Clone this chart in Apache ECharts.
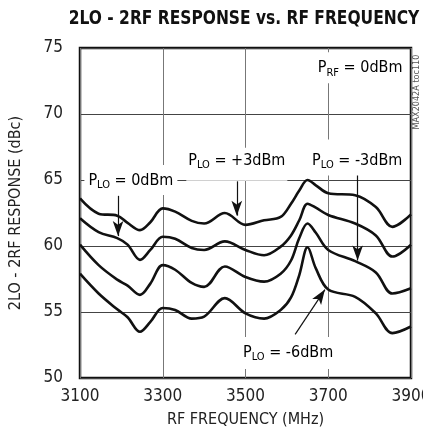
<!DOCTYPE html>
<html>
<head>
<meta charset="utf-8">
<script src="https://cdn.jsdelivr.net/npm/echarts@6/dist/echarts.min.js"></script>
<style>
  html, body { margin: 0; padding: 0; background: #fff; }
  #main { width: 423px; height: 436px; }
</style>
</head>
<body>
<div id="main"></div>
<script>
// RF frequency (MHz) sample points, shared by all curves
var freqs = [3100, 3145, 3190, 3215, 3245, 3270, 3300, 3330, 3370, 3400, 3450,
             3500, 3545, 3585, 3610, 3630, 3650, 3670, 3700, 3765, 3815, 3855, 3900];
// 2LO-2RF response (dBc) per LO power
var plo_p3 = [63.6, 62.45, 62.3, 61.75, 61.2, 61.8, 62.85, 62.6, 61.9, 61.7, 62.5,
              61.6, 61.95, 62.2, 63.2, 64.2, 65.0, 64.6, 64.0, 63.85, 62.95, 61.45, 62.4];
var plo_0  = [62.1, 61.05, 60.6, 60.1, 58.95, 59.7, 60.7, 60.55, 59.85, 59.7, 60.35,
              59.7, 59.3, 59.95, 60.8, 61.95, 63.2, 62.9, 62.35, 61.7, 60.8, 59.2, 60.1];
var plo_m3 = [60.1, 58.55, 57.45, 57.0, 56.3, 57.15, 58.55, 58.2, 57.2, 56.9, 58.45,
              57.65, 57.3, 57.9, 58.9, 60.6, 61.7, 61.0, 59.7, 58.85, 58.0, 56.4, 56.8];
var plo_m6 = [57.9, 56.4, 55.2, 54.6, 53.5, 54.25, 55.3, 55.15, 54.5, 54.65, 56.05,
              54.9, 54.5, 55.15, 56.1, 57.8, 59.9, 58.3, 56.7, 56.15, 54.9, 53.4, 53.9];

var FONT = "'Liberation Sans Narrow', 'DejaVu Sans Condensed', 'Roboto', sans-serif";

function pairs(ys) {
    return freqs.map(function (f, i) { return [f, ys[i]]; });
}

var dom = document.getElementById('main');
var chart = echarts.init(dom);

function curve(name, ys, marks) {
    var s = {
        name: name,
        type: 'line',
        smooth: 0.35,
        showSymbol: false,
        silent: true,
        lineStyle: { color: '#111', width: 2.6 },
        data: pairs(ys)
    };
    if (marks) {
        s.markLine = {
            silent: true,
            symbol: ['none', 'arrow'],
            symbolSize: [8, 15],
            label: { show: false },
            lineStyle: { color: '#111', width: 1.2, type: 'solid' },
            data: marks
        };
    }
    return s;
}

// annotation arrows, in data units [from, to]
var arrows = [
    [{ coord: [3192, 63.8] }, { coord: [3192, 60.75] }],
    [{ coord: [3479, 64.9] }, { coord: [3479, 62.3] }],
    [{ coord: [3771, 65.5] }, { coord: [3771, 58.9] }],
    [{ coord: [3620, 53.3] }, { coord: [3692, 56.7] }]
];

option = {
    animation: false,
    grid: {
        left: 80, right: 12, top: 48, bottom: 58,
        outerBoundsMode: 'none',
        containLabel: false,
        show: true, borderColor: '#111', borderWidth: 2.5
    },
    xAxis: {
        type: 'value',
        min: 3100, max: 3900, interval: 200,
        name: 'RF FREQUENCY (MHz)',
        nameLocation: 'middle',
        nameGap: 34,
        nameTextStyle: { fontFamily: FONT, fontSize: 16, color: '#222' },
        axisLine: { show: false },
        axisTick: { show: false },
        axisLabel: { fontFamily: FONT, fontSize: 17, color: '#222', margin: 10,
                     formatter: function (v) { return String(v); } },
        splitLine: { lineStyle: { color: '#777', width: 1 } }
    },
    yAxis: {
        type: 'value',
        min: 50, max: 75, interval: 5,
        name: '2LO - 2RF RESPONSE (dBc)',
        nameLocation: 'middle',
        nameGap: 56,
        nameTextStyle: { fontFamily: FONT, fontSize: 16, color: '#222' },
        axisLine: { show: false },
        axisTick: { show: false },
        axisLabel: { fontFamily: FONT, fontSize: 17, color: '#222', margin: 17 },
        splitLine: { lineStyle: { color: '#444', width: 1 } }
    },
    series: [
        curve('PLO = +3dBm', plo_p3, arrows),
        curve('PLO = 0dBm', plo_0),
        curve('PLO = -3dBm', plo_m3),
        curve('PLO = -6dBm', plo_m6)
    ]
};
chart.setOption(option);

// text labels placed at data positions
var notes = [
    { sym: 'P', sub: 'LO', rest: ' = 0dBm', at: [3223, 65.0], pad: [6, 4, 4, 4] },
    { sym: 'P', sub: 'LO', rest: ' = +3dBm', at: [3479, 66.2], pad: [3, 2, 10, 2] },
    { sym: 'P', sub: 'RF', rest: ' = 0dBm', at: [3777, 73.5], pad: [6, 3, 5, 3] },
    { sym: 'P', sub: 'LO', rest: ' = -3dBm', at: [3770, 66.7], pad: [11, 3, 5, 3] },
    { sym: 'P', sub: 'LO', rest: ' = -6dBm', at: [3603, 51.9], pad: [6, 6, 6, 6] }
];
var rich = {
    a: { fontFamily: FONT, fontSize: 16, color: '#222' },
    b: { fontFamily: FONT, fontSize: 11, color: '#222', padding: [9, 0, 0, 0] }
};
var graphics = notes.map(function (n) {
    var p = chart.convertToPixel({ gridIndex: 0 }, n.at);
    return {
        type: 'text',
        x: p[0], y: p[1], z: 50,
        style: {
            text: '{a|' + n.sym + '}{b|' + n.sub + '}{a|' + n.rest + '}',
            rich: rich,
            align: 'center',
            verticalAlign: 'middle',
            backgroundColor: '#fff',
            padding: n.pad
        }
    };
});
// condensed bold title, squeezed horizontally
graphics.push({
    type: 'text',
    x: 244, y: 19, z: 50,
    scaleX: 0.86,
    style: {
        text: '2LO - 2RF RESPONSE vs. RF FREQUENCY',
        font: 'bold 20px ' + FONT,
        fill: '#111',
        align: 'center',
        verticalAlign: 'middle'
    }
});
graphics.push({
    type: 'text',
    x: 417, y: 92, z: 50,
    rotation: Math.PI / 2,
    style: {
        text: 'MAX2042A toc110',
        font: '9px ' + FONT,
        fill: '#555',
        align: 'center',
        verticalAlign: 'middle'
    }
});
chart.setOption({ graphic: graphics });
</script>
</body>
</html>
